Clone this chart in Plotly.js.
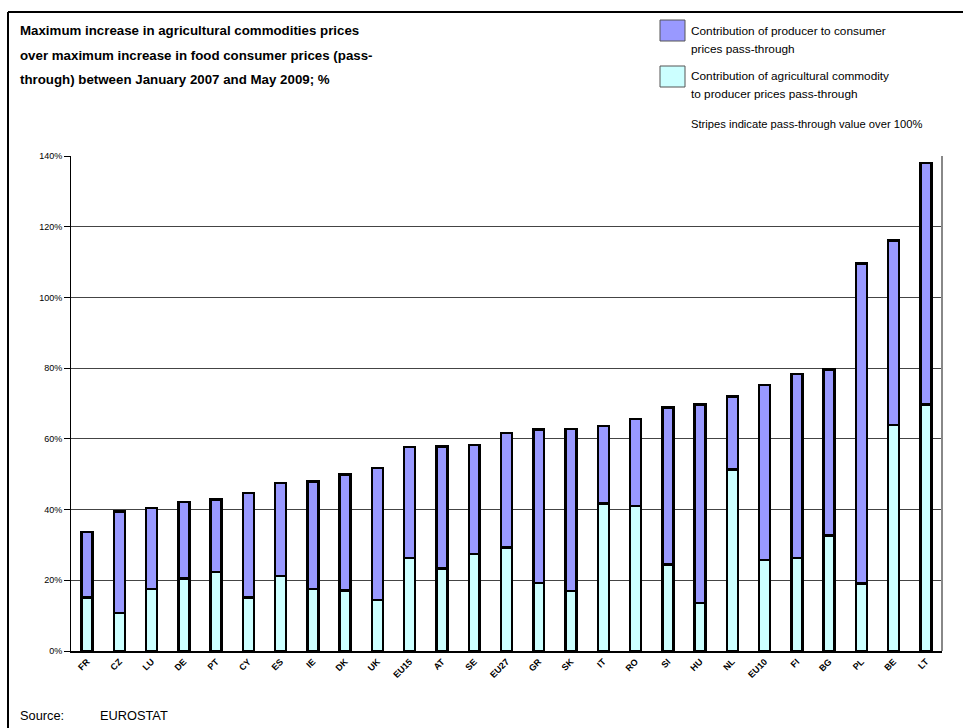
<!DOCTYPE html>
<html>
<head>
<meta charset="utf-8">
<script src="https://cdn.plot.ly/plotly-3.0.1.min.js"></script>
<style>html,body{margin:0;padding:0;background:#fff;}#chart{width:963px;height:728px;}</style>
</head>
<body>
<div id="chart"></div>
<script>
// ---- data ----
var countries = ["FR","CZ","LU","DE","PT","CY","ES","IE","DK","UK","EU15","AT","SE","EU27","GR","SK","IT","RO","SI","HU","NL","EU10","FI","BG","PL","BE","LT"];
// contribution of agricultural commodity to producer prices pass-through (lower segment, %)
var agriContribution = [15.2,10.7,17.5,20.5,22.3,15.2,21.2,17.5,17.1,14.4,26.3,23.4,27.4,29.3,19.3,17.0,41.7,41.0,24.5,13.6,51.3,25.8,26.3,32.6,19.1,63.9,69.7];
// contribution of producer to consumer prices pass-through (upper segment, %)
var producerContribution = [18.4,28.7,23.0,21.7,20.5,29.5,26.3,30.5,32.8,37.4,31.4,34.5,30.8,32.3,43.3,45.8,22.0,24.6,44.4,56.1,20.7,49.4,52.0,47.0,90.5,52.2,68.3];
var yTicks = [0,20,40,60,80,100,120,140];
var yTickLabels = ["0%","20%","40%","60%","80%","100%","120%","140%"];

var titleLines = [
  "Maximum increase in agricultural commodities prices",
  "over maximum increase in food consumer prices (pass-",
  "through) between January 2007 and May 2009; %"
];
var legendLines = [
  ["Contribution of producer to consumer", "prices pass-through"],
  ["Contribution of agricultural commodity", "to producer prices pass-through"]
];
var legendNames = [legendLines[0].join(" "), legendLines[1].join(" ")];

// ---- geometry helpers (pixel -> paper) ----
var W = 963, H = 728, L = 71, R = 21, T = 156, B = 77;
var PW = W - L - R, PH = H - T - B;
function X(px){ return (px - L) / PW; }
function Y(py){ return (H - B - py) / PH; }

var FONT = "Arial, 'Liberation Sans', sans-serif";

var traces = [
  {
    type: "bar", name: legendNames[1], x: countries, y: agriContribution,
    marker: {color: "#CCFFFF", line: {color: "#000000", width: 2.5}},
    showlegend: false, hoverinfo: "x+y"
  },
  {
    type: "bar", name: legendNames[0], x: countries, y: producerContribution,
    marker: {color: "#9999FF", line: {color: "#000000", width: 2.5}},
    showlegend: false, hoverinfo: "x+y"
  }
];

var annotations = [];
var titleY = [31, 55, 80];
titleLines.forEach(function(t, i){
  annotations.push({xref:"paper", yref:"paper", x: X(18), y: Y(titleY[i]), xanchor:"left", yanchor:"middle",
    text: t, showarrow:false, font:{family: FONT, size: 13.3, color:"#000", weight: "bold"}});
});
var legY = [[31, 49], [76, 94]];
legendLines.forEach(function(lines, i){
  lines.forEach(function(t, j){
    annotations.push({xref:"paper", yref:"paper", x: X(689), y: Y(legY[i][j]), xanchor:"left", yanchor:"middle",
      text: t, showarrow:false, font:{family: FONT, size: 11.8, color:"#000"}});
  });
});
annotations.push({xref:"paper", yref:"paper", x: X(689), y: Y(124), xanchor:"left", yanchor:"middle",
  text: "Stripes indicate pass-through value over 100%", showarrow:false, font:{family: FONT, size: 11.2, color:"#000"}});
annotations.push({xref:"paper", yref:"paper", x: X(18), y: Y(715), xanchor:"left", yanchor:"middle",
  text: "Source:", showarrow:false, font:{family: FONT, size: 12.8, color:"#000"}});
annotations.push({xref:"paper", yref:"paper", x: X(98), y: Y(715), xanchor:"left", yanchor:"middle",
  text: "EUROSTAT", showarrow:false, font:{family: FONT, size: 12.8, color:"#000"}});

var shapes = [
  // outer frame (left and top)
  {type:"line", xref:"paper", yref:"paper", x0: X(8), x1: X(8), y0: Y(760), y1: Y(12), line:{color:"#000", width:2}},
  {type:"line", xref:"paper", yref:"paper", x0: X(8), x1: X(990), y0: Y(12), y1: Y(12), line:{color:"#000", width:2}},
  // right border of plot area
  {type:"line", xref:"paper", yref:"paper", x0: 1, x1: 1, y0: 0, y1: 1, line:{color:"#888", width:2}},
  // legend boxes
  {type:"rect", xref:"paper", yref:"paper", x0: X(660), x1: X(685), y0: Y(41), y1: Y(20), fillcolor:"#9999FF", line:{color:"#555", width:1}},
  {type:"rect", xref:"paper", yref:"paper", x0: X(660), x1: X(685), y0: Y(87), y1: Y(66), fillcolor:"#CCFFFF", line:{color:"#555", width:1}}
];

var layout = {
  width: W, height: H,
  margin: {l: L, r: R, t: T, b: B, pad: 0},
  paper_bgcolor: "#ffffff", plot_bgcolor: "#ffffff",
  barmode: "stack", bargap: 0.66,
  showlegend: false,
  font: {family: FONT, color: "#000"},
  xaxis: {
    type: "category", range: [-0.5, countries.length - 0.5], tickangle: -45, automargin: false,
    showgrid: false, ticks: "",
    showline: true, linecolor: "#000", linewidth: 2,
    tickfont: {family: FONT, size: 9, color: "#000", weight: "bold"},
    fixedrange: true
  },
  yaxis: {
    range: [0, 140], tickmode: "array", tickvals: yTicks, ticktext: yTickLabels,
    ticks: "outside", ticklen: 6, tickcolor: "#000", tickwidth: 1,
    showline: true, linecolor: "#000", linewidth: 1,
    showgrid: true, gridcolor: "#444", gridwidth: 1, zeroline: false,
    tickfont: {family: FONT, size: 9, color: "#000"},
    fixedrange: true
  },
  annotations: annotations,
  shapes: shapes
};

Plotly.newPlot("chart", traces, layout, {displayModeBar: false, staticPlot: true});
</script>
</body>
</html>
